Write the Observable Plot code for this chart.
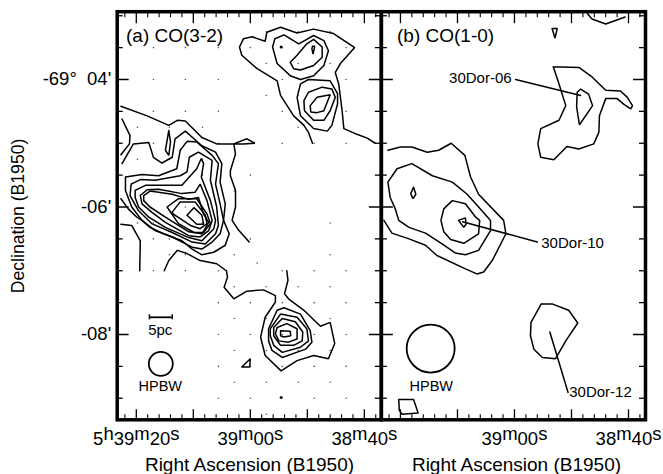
<!DOCTYPE html>
<html><head><meta charset="utf-8">
<style>html,body{margin:0;padding:0;background:#fff}</style>
<script src="https://cdn.jsdelivr.net/npm/d3@7"></script>
<script src="https://cdn.jsdelivr.net/npm/@observablehq/plot@0.6"></script>
</head><body><div id="chart"></div>
<script>
// RA: seconds of time relative to 5h39m00s (east positive). Dec: arcminutes below -69 deg.
const a_top1=[[-10.9,5.00],[-10.2,4.83],[-9.4,4.72],[-7.6,4.57],[-5.3,4.25],[-4.7,4.02],[-1.2,3.83],[1.5,3.62],[1.9,3.49],[1.2,3.36],[-0.3,3.33],[-2.6,3.40],[-2.9,3.26],[-5.3,3.18],[-8.2,3.27],[-11.1,3.21],[-14.6,3.28],[-18.3,3.50],[-15.8,3.75],[-14.9,3.89],[-15.5,4.07],[-16.1,4.49],[-16.4,4.77],[-18.7,4.86],[-20.5,4.92],[-21.9,5.00]];
const a_top2=[[-3.9,3.49],[-4.3,3.36],[-5.9,3.30],[-8.5,3.44],[-11.1,3.31],[-12.9,3.39],[-13.7,3.55],[-12.9,3.78],[-11.1,3.94],[-8.8,4.00],[-7.0,3.94],[-4.7,3.75]];
const a_top3=[[-7.0,3.73],[-8.2,3.62],[-9.9,3.44],[-11.1,3.37],[-12.6,3.49],[-12.6,3.65],[-11.1,3.78],[-8.8,3.85],[-7.6,3.83]];
const a_top4=[[-10.9,3.48],[-11.3,3.48],[-11.0,3.60],[-10.8,3.52]];
const a_mid1=[[-8.2,4.28],[-8.8,4.07],[-10.2,4.00],[-14.0,4.02],[-15.3,4.22],[-15.3,4.38],[-14.3,4.72],[-13.5,4.81],[-11.1,4.77],[-8.8,4.57]];
const a_mid2=[[-9.4,4.33],[-10.2,4.20],[-12.6,4.12],[-14.3,4.15],[-14.9,4.28],[-14.0,4.49],[-12.9,4.64],[-11.1,4.64],[-9.5,4.49]];
const a_mid3=[[-10.5,4.41],[-11.7,4.28],[-14.0,4.24],[-12.9,4.49],[-11.7,4.52],[-10.6,4.51]];
const a_t1=[[22.7,4.42],[18.1,4.57],[14.3,4.72],[12.8,4.64],[11.4,4.65],[8.5,4.91],[5.9,5.01],[2.9,5.01],[2.6,5.17],[3.5,5.43],[3.5,5.51],[2.6,5.74],[2.6,6.00],[3.2,6.21],[2.0,6.37],[0.2,6.55]];
const a_spike=[[2.9,5.01],[0.6,4.93],[-0.8,5.00],[1.2,5.01]];
const a_t2=[[22.5,4.62],[21.8,4.75],[21.1,4.88],[21.2,5.01],[22.7,5.18]];
const a_island=[[14.3,4.80],[14.9,5.11],[14.3,5.19],[14.0,4.98]];
const a_l1=[[22.5,5.32],[20.5,5.01],[17.8,4.99],[17.0,5.22],[15.5,5.31],[13.7,5.22],[13.2,4.93],[11.4,4.81],[8.5,5.04],[6.1,5.14],[5.0,5.32],[5.3,5.61],[4.4,5.95],[4.7,6.21],[3.7,6.42],[4.4,6.60],[6.4,6.71],[8.5,6.75],[10.2,6.66],[12.0,6.53],[15.2,6.42],[17.6,6.32],[19.0,6.21],[19.9,6.16],[21.4,6.03],[22.7,5.87]];
const a_l2=[[21.9,5.53],[19.0,5.49],[16.1,5.51],[12.9,5.40],[12.3,5.11],[11.1,4.97],[9.4,4.98],[6.7,5.19],[5.6,5.32],[6.1,5.64],[5.3,5.95],[4.7,6.21],[5.3,6.42],[6.7,6.55],[8.5,6.66],[10.2,6.63],[13.7,6.47],[16.7,6.37],[19.0,6.21],[20.8,6.00],[21.9,5.74]];
const a_l3=[[20.9,5.64],[19.3,5.57],[16.7,5.58],[12.3,5.51],[11.1,5.45],[10.7,5.22],[9.1,5.14],[6.7,5.27],[7.0,5.58],[5.9,6.00],[5.6,6.29],[6.1,6.42],[7.9,6.58],[10.2,6.55],[13.7,6.40],[17.3,6.26],[19.6,6.06],[21.1,5.82]];
const a_l4=[[20.2,5.74],[18.4,5.66],[16.1,5.66],[12.0,5.66],[9.4,5.40],[8.6,5.24],[8.2,5.32],[8.6,5.53],[7.0,5.90],[6.1,6.21],[6.4,6.34],[8.5,6.53],[10.8,6.48],[14.9,6.32],[17.8,6.16],[19.6,6.00],[20.2,5.85]];
const a_l5=[[19.3,5.82],[18.1,5.73],[16.1,5.72],[12.0,5.79],[9.7,5.77],[8.8,5.64],[7.6,5.90],[6.7,6.21],[7.3,6.37],[8.8,6.47],[10.8,6.45],[14.9,6.24],[17.3,6.08],[19.0,5.95]];
const a_l6=[[18.7,5.82],[17.6,5.75],[13.7,5.80],[10.8,5.88],[9.1,5.85],[8.2,6.11],[7.3,6.24],[8.5,6.42],[10.8,6.39],[14.9,6.16],[17.6,6.00],[18.7,5.90]];
const a_l7=[[14.6,6.00],[12.6,5.87],[9.4,5.87],[7.6,6.11],[7.0,6.26],[8.2,6.40],[9.9,6.40],[12.6,6.26]];
const a_l8=[[13.7,6.08],[12.3,5.92],[9.7,5.92],[7.9,6.13],[7.6,6.26],[8.8,6.34],[10.5,6.29],[13.5,6.11]];
const a_l9=[[11.1,6.13],[9.9,6.01],[8.5,6.13],[8.2,6.27],[9.4,6.27]];
const a_m1=[[15.1,7.00],[14.3,6.84],[12.8,6.68],[11.1,6.73],[8.8,6.84],[5.9,6.89],[4.2,7.00],[4.0,7.10],[4.6,7.26],[2.9,7.44],[0.6,7.32],[-2.3,7.30],[-4.4,7.39],[-4.4,7.49],[-2.6,7.73],[-1.8,8.04],[-2.6,8.33],[-5.4,8.57],[-8.2,8.41],[-11.1,8.33],[-13.7,8.38],[-14.8,8.14],[-14.0,7.81],[-12.3,7.87],[-9.4,7.62],[-6.7,7.44],[-6.0,7.36],[-6.6,7.15],[-6.4,7.00]];
const a_m2=[[22.7,6.27],[20.8,6.29],[19.3,6.53],[19.4,7.00]];
const a_coreA=[[-3.2,7.91],[-4.7,7.62],[-5.9,7.58],[-8.8,7.68],[-10.5,7.94],[-10.8,8.12],[-9.7,8.23],[-5.6,8.36],[-3.8,8.25],[-3.2,8.10]];
const a_coreB=[[-3.5,7.91],[-5.3,7.68],[-8.2,7.73],[-9.9,7.91],[-10.2,8.10],[-8.8,8.20],[-5.6,8.28],[-4.1,8.17],[-3.5,8.02]];
const a_coreC=[[-4.1,7.89],[-5.6,7.75],[-7.9,7.80],[-9.2,7.96],[-9.1,8.10],[-7.6,8.17],[-5.3,8.17],[-4.1,8.02]];
const a_coreD=[[-4.7,7.89],[-6.4,7.83],[-8.2,7.91],[-8.2,8.07],[-6.7,8.12],[-5.0,8.10],[-4.4,7.99]];
const a_coreE=[[-5.3,7.94],[-7.0,7.95],[-7.1,8.02],[-5.9,8.04],[-5.3,8.02]];
const a_tri=[[1.5,8.51],[0,8.38],[0.1,8.51]];
const a_spots=[[-5.4,3.49],[-5.4,8.99]];

const b_top=[[-12.8,2.97],[-13.6,3.05],[-16.0,3.13],[-19.4,3.02]];
const b_small=[[-6.6,3.20],[-7.5,3.20],[-7.1,3.35]];
const b_c06=[[-6.8,3.80],[-11.3,3.81],[-13.6,3.96],[-16.0,4.17],[-18.6,4.18],[-19.8,4.28],[-20.7,4.41],[-20.4,4.46],[-19.2,4.39],[-18.0,4.30],[-16.0,4.30],[-14.9,4.57],[-14.8,4.83],[-13.9,5.01],[-11.3,5.09],[-9.2,5.05],[-6.9,5.26],[-4.6,5.22],[-4.1,5.01],[-4.6,4.77],[-7.8,4.64],[-9.0,4.41],[-7.7,4.04]];
const b_i06=[[-11.0,4.20],[-11.6,4.15],[-13.0,4.23],[-13.7,4.41],[-11.4,4.71],[-10.9,4.43]];
const b_o10=[[22.2,5.11],[20.0,5.06],[18.0,5.06],[15.3,5.14],[13.3,5.11],[11.1,5.00],[8.7,5.19],[7.7,5.53],[6.3,5.80],[1.9,6.21],[1.5,6.42],[3.9,6.84],[5.4,7.02],[6.6,7.05],[8.6,6.97],[13.6,6.76],[15.6,6.60],[18.5,6.50],[21.5,6.41],[22.9,6.21]];
const b_m10=[[22.2,5.61],[20.6,5.40],[18.0,5.32],[14.4,5.51],[10.9,5.61],[8.3,5.80],[6.8,5.95],[4.2,6.21],[4.2,6.37],[6.3,6.68],[8.6,6.75],[10.4,6.72],[12.7,6.58],[15.6,6.41],[18.5,6.32],[20.3,6.21],[20.9,6.03],[21.8,5.85]];
const b_i10=[[12.4,6.03],[10.9,5.90],[8.6,5.95],[6.8,6.16],[6.1,6.21],[6.3,6.42],[8.9,6.57],[11.2,6.51],[12.4,6.39],[12.9,6.21]];
const b_p10=[[9.8,6.21],[8.6,6.17],[8.5,6.27],[8.9,6.32]];
const b_d10=[[17.7,5.69],[17.3,5.80],[17.8,5.87],[18.2,5.79]];
const b_c12=[[-4.7,7.52],[-6.6,7.52],[-9.5,7.62],[-11.1,7.82],[-9.0,8.10],[-7.2,8.38],[-4.9,8.36],[-3.4,8.23],[-2.8,8.02],[-2.9,7.81]];
const b_low=[[20.3,9.02],[17.7,9.02],[16.9,9.23],[19.7,9.25],[20.2,9.19]];

const leaders=[[[-0.2,4.00],[-11.6,4.25]],[[9.1,6.23],[-4.0,6.55]],[[-6.2,7.96],[-9.4,8.91]]];

// observed positions marked in the CO(3-2) map: one RA list per Dec row
const obsDec=[3.25,3.5,3.75,4,4.25,4.5,4.75,5,5.25,5.5,5.75,6,6.25,6.5,6.75,6.88,7,7.25,7.5,7.75,8,8.25,8.5,8.75,9,9.25];
const obsRA=[
 [-2.8,-8.4,-14],
 [17,11.4,5.6,0,-5.6,-16.8],
 [-2.8,-8.4,-14],
 [17,11.4,5.6,-5.6,-11.2,-16.8],
 [-2.8,-8.4,-14],
 [17,11.4,5.6,-5.6,-16.8],
 [19.8,14.2,8.4,-8.4,-14],
 [17,11.4,5.6,-5.6,-11.2,-16.8],
 [19.8,14.2,8.4],
 [8.4,0],
 [17,14.2,2.8],
 [11.4],
 [19.8,17,8.4,-14],
 [17,14.2,0],
 [14.2,11.4,2.8,-14],
 [-1.2],
 [17,11.4,5.6,-5.6,-11.2,-16.8],
 [2.8,-2.8,-8.4,-14],
 [5.6,0,-5.6,-11.2,-16.8],
 [2.8,-2.8,-8.4,-14],
 [5.6,0,-5.6,-11.2,-16.8],
 [2.8,-2.8,-8.4,-14],
 [5.6,0,-5.6,-11.2,-16.8],
 [2.8,-2.8,-8.4,-14],
 [5.6,0,-11.2,-16.8],
 [-2.8]
];

const raMajor=[20,10,0,-10,-20];
const raMinor=[22,18,16,14,12,8,6,4,2,-2,-4,-6,-8,-12,-14,-16,-18,-22];
const decMajor=[4,6,8];
const decMinor=[3,3.5,4.5,5,5.5,6.5,7,7.5,8.5,9];
const decLabels={4:"-69°\u00a0\u00a004'",6:"-06'",8:"-08'"};
const raLabels=[["a",20,"5h39m20s"],["a",0,"39m00s"],["a",-20,"38m40s"],["b",0,"39m00s"],["b",-20,"38m40s"]];
const titles=[["a",21.8,"(a) CO(3-2)"],["b",20.6,"(b) CO(1-0)"]];
const sourcesEnd=[["30Dor-06",0.5,3.98]];
const sourcesStart=[["30Dor-10",-4.7,6.57],["30Dor-12",-9.6,8.91]];
const beams=[["a",15.7,8.46,12],["b",14.7,8.22,24]];
const beamLabels=[["a",15.8,8.82],["b",14.6,8.82]];
const xLabels=[["a",0.15],["b",-0.35]];
const scaleBar={ra:[17.7,13.7],dec:7.73,cap:0.04,labelRA:15.8,labelDec:7.94,text:"5pc"};

const rows=[];
function add(panel,id,pts,closed){
  const p=closed?[...pts,pts[0]]:pts;
  p.forEach(([x,y])=>rows.push({panel,id,x,y}));
}
[["t1",a_top1,0],["t2",a_top2,1],["t3",a_top3,1],["t4",a_top4,1],["m1",a_mid1,1],["m2",a_mid2,1],["m3",a_mid3,1],
 ["o1",a_t1,0],["sp",a_spike,1],["o2",a_t2,0],["isl",a_island,1],["l1",a_l1,0],["l2",a_l2,1],["l3",a_l3,1],["l4",a_l4,1],["l5",a_l5,1],["l6",a_l6,1],["l7",a_l7,1],["l8",a_l8,1],["l9",a_l9,1],
 ["b1",a_m1,0],["b2",a_m2,0],["cA",a_coreA,1],["cB",a_coreB,1],["cC",a_coreC,1],["cD",a_coreD,1],["cE",a_coreE,1],["tri",a_tri,1]
].forEach(([id,p,c])=>add("a",id,p,!!c));
[["bt",b_top,0],["bs",b_small,1],["c06",b_c06,1],["i06",b_i06,1],["o10",b_o10,0],["m10",b_m10,1],["i10",b_i10,1],["p10",b_p10,1],["d10",b_d10,1],["c12",b_c12,1],["low",b_low,1]
].forEach(([id,p,c])=>add("b","b"+id,p,!!c));
leaders.forEach((l,i)=>add("b","lead"+i,l,false));

const grid=[];
obsDec.forEach((y,i)=>obsRA[i].forEach(x=>grid.push({x,y})));

const ink="#000";
const plot=Plot.plot({
  width:663,height:474,
  marginLeft:116.7,marginRight:18,marginTop:11.2,marginBottom:54.7,
  style:{fontFamily:"'Liberation Sans',Arial,sans-serif",background:"#fff"},
  fx:{domain:["a","b"],axis:null,padding:0,round:false},
  x:{domain:[23.35,-22.98],axis:null},
  y:{domain:[9.338,2.9365],axis:null},
  r:{type:"identity"},
  marks:[
    Plot.dot(grid,{x:"x",y:"y",fx:()=>"a",r:0.8,fill:"#555",stroke:null}),
    Plot.dot(a_spots,{x:d=>d[0],y:d=>d[1],fx:()=>"a",r:1.5,fill:ink,stroke:null}),
    Plot.line(rows,{x:"x",y:"y",z:"id",fx:"panel",stroke:ink,strokeWidth:1.5,curve:"linear",strokeLinejoin:"miter"}),
    Plot.axisX({anchor:"bottom",facetAnchor:null,ticks:raMajor,tickSize:-10,tickFormat:()=>"",label:null,stroke:ink,strokeWidth:1.3}),
    Plot.axisX({anchor:"bottom",facetAnchor:null,ticks:raMinor,tickSize:-5,tickFormat:()=>"",label:null,stroke:ink,strokeWidth:1.1}),
    Plot.axisX({anchor:"top",facetAnchor:null,ticks:raMajor,tickSize:-11,tickFormat:()=>"",label:null,stroke:ink,strokeWidth:1.3}),
    Plot.axisX({anchor:"top",facetAnchor:null,ticks:raMinor,tickSize:-5,tickFormat:()=>"",label:null,stroke:ink,strokeWidth:1.1}),
    Plot.axisY({anchor:"left",facetAnchor:null,ticks:decMajor,tickSize:-12,tickFormat:()=>"",label:null,stroke:ink,strokeWidth:1.5}),
    Plot.axisY({anchor:"left",facetAnchor:null,ticks:decMinor,tickSize:-6,tickFormat:()=>"",label:null,stroke:ink,strokeWidth:1.3}),
    Plot.axisY({anchor:"right",facetAnchor:null,ticks:decMajor,tickSize:-13,tickFormat:()=>"",label:null,stroke:ink,strokeWidth:1.5}),
    Plot.axisY({anchor:"right",facetAnchor:null,ticks:decMinor,tickSize:-7,tickFormat:()=>"",label:null,stroke:ink,strokeWidth:1.3}),
    Plot.frame({stroke:ink,strokeWidth:3.5}),
    Plot.text(decMajor,{x:()=>23.35,y:d=>d,fx:()=>"a",text:d=>decLabels[d],textAnchor:"end",dx:-6,fontSize:18.5,fill:"#000"}),
    Plot.text(["Declination (B1950)"],{frameAnchor:"left",fx:()=>"a",y:()=>6.14,text:d=>d,rotate:-90,dx:-99,textAnchor:"middle",lineAnchor:"middle",fontSize:17.6,fill:"#000"}),
    Plot.text(raLabels,{x:d=>d[1],fx:d=>d[0],text:d=>d[2],frameAnchor:"bottom",lineAnchor:"middle",dy:19.7,fontSize:18.5,fill:"#000"}),
    Plot.text(xLabels,{x:d=>d[1],fx:d=>d[0],text:()=>"Right Ascension (B1950)",frameAnchor:"bottom",lineAnchor:"middle",dy:45,fontSize:19,fill:"#000"}),
    Plot.text(titles,{x:d=>d[1],y:()=>3.31,fx:d=>d[0],text:d=>d[2],textAnchor:"start",fontSize:19,fill:"#000"}),
    Plot.text(sourcesEnd,{x:d=>d[1],y:d=>d[2],fx:()=>"b",text:d=>d[0],textAnchor:"end",fontSize:15,fill:"#000"}),
    Plot.text(sourcesStart,{x:d=>d[1],y:d=>d[2],fx:()=>"b",text:d=>d[0],textAnchor:"start",fontSize:15,fill:"#000"}),
    Plot.dot(beams,{x:d=>d[1],y:d=>d[2],fx:d=>d[0],r:d=>d[3],stroke:ink,strokeWidth:1.8,fill:"none"}),
    Plot.text(beamLabels,{x:d=>d[1],y:d=>d[2],fx:d=>d[0],text:()=>"HPBW",fontSize:14.5,fill:"#000"}),
    Plot.ruleY([scaleBar.dec],{x1:scaleBar.ra[0],x2:scaleBar.ra[1],fx:()=>"a",stroke:ink,strokeWidth:1.8}),
    Plot.ruleX(scaleBar.ra,{x:d=>d,y1:scaleBar.dec-scaleBar.cap,y2:scaleBar.dec+scaleBar.cap,fx:()=>"a",stroke:ink,strokeWidth:1.5}),
    Plot.text([scaleBar.text],{x:()=>scaleBar.labelRA,y:()=>scaleBar.labelDec,fx:()=>"a",text:d=>d,fontSize:15,fill:"#000"})
  ]
});
// raise the h, m, s unit letters of the RA tick labels
plot.querySelectorAll("text").forEach(t=>{
  const s=t.textContent;
  if(!/^(\dh)?\d\dm\d\ds$/.test(s)) return;
  t.textContent="";
  const parts=s.match(/\d+|[hms]/g);
  let raised=false;
  parts.forEach(p=>{
    const span=document.createElementNS("http://www.w3.org/2000/svg","tspan");
    span.textContent=p;
    const up=/[hms]/.test(p);
    if(up&&!raised){span.setAttribute("dy","-5");raised=true;}
    else if(!up&&raised){span.setAttribute("dy","5");raised=false;}
    t.appendChild(span);
  });
});
document.getElementById("chart").appendChild(plot);
</script></body></html>
